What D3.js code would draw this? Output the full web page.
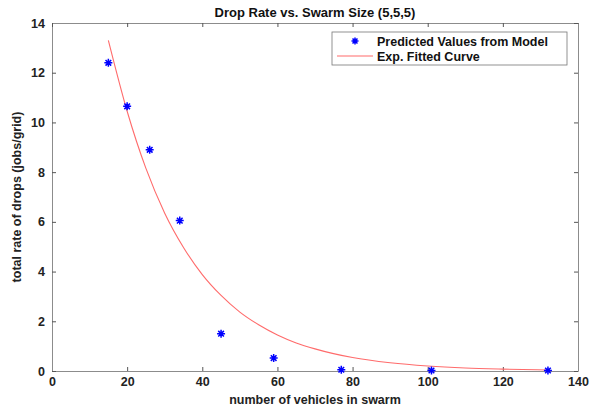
<!DOCTYPE html>
<html>
<head>
<meta charset="utf-8">
<script src="https://cdn.jsdelivr.net/npm/d3@7"></script>
<style>
  body { margin: 0; background: #fff; }
  svg text { font-family: "Liberation Sans", Arial, sans-serif; font-weight: bold; }
</style>
</head>
<body>
<svg id="chart" width="592" height="409"></svg>
<script>
// DATA
var vehicles = [15, 20, 26, 34, 45, 59, 77, 101, 132];
var drop_rate = [12.4, 10.65, 8.9, 6.05, 1.5, 0.52, 0.05, 0.02, 0.02];
// fitted curve
var fit_x = [15, 20, 25, 30, 35, 40, 45, 50, 55, 60, 65, 70, 80, 90, 100, 110, 120, 132];
var fit_y = [13.3, 10.45, 8.15, 6.35, 4.97, 3.88, 3.04, 2.37, 1.86, 1.45, 1.13, 0.89, 0.54, 0.33, 0.2, 0.12, 0.076, 0.042];
var x_ticks = [0, 20, 40, 60, 80, 100, 120, 140];
var y_ticks = [0, 2, 4, 6, 8, 10, 12, 14];

// CHART
var margin = { left: 52, top: 23, right: 14, bottom: 38 };
var width = 592 - margin.left - margin.right;
var height = 409 - margin.top - margin.bottom;

var x = d3.scaleLinear().domain([0, 140]).range([0, width]);
var y = d3.scaleLinear().domain([0, 14]).range([height, 0]);

var svg = d3.select('svg#chart');
var g = svg.append('g')
    .attr('transform', 'translate(' + margin.left + ',' + margin.top + ')');

function style_axis(sel) {
    sel.selectAll('path.domain').attr('stroke', '#8c8c8c');
    sel.selectAll('.tick line').attr('stroke', '#555');
    sel.selectAll('.tick text').attr('fill', '#222').attr('font-size', 12.5)
        .attr('font-family', '"Liberation Sans", Arial, sans-serif').attr('font-weight', 'bold');
}

// bottom / left axes, ticks pointing inward
g.append('g')
    .attr('transform', 'translate(0,' + height + ')')
    .call(d3.axisBottom(x).tickValues(x_ticks).tickSize(-4).tickSizeOuter(0).tickPadding(6))
    .call(style_axis);
g.append('g')
    .call(d3.axisLeft(y).tickValues(y_ticks).tickSize(-4).tickSizeOuter(0).tickPadding(7))
    .call(style_axis);
// top / right axes, no labels
g.append('g')
    .call(d3.axisTop(x).tickValues(x_ticks).tickSize(-4).tickSizeOuter(0).tickFormat(''))
    .call(style_axis);
g.append('g')
    .attr('transform', 'translate(' + width + ',0)')
    .call(d3.axisRight(y).tickValues(y_ticks).tickSize(-4).tickSizeOuter(0).tickFormat(''))
    .call(style_axis);

// fitted curve
var fit = fit_x.map(function(d, i) { return { x: d, y: fit_y[i] }; });
var line = d3.line()
    .x(function(d) { return x(d.x); })
    .y(function(d) { return y(d.y); })
    .curve(d3.curveMonotoneX);
g.append('path')
    .datum(fit)
    .attr('fill', 'none')
    .attr('stroke', '#ff6b6b')
    .attr('stroke-width', 1.1)
    .attr('d', line);

// asterisk markers
function star(r) {
    var d = r * 0.7071;
    return 'M' + (-r) + ',0L' + r + ',0M0,' + (-r) + 'L0,' + r +
        'M' + (-d) + ',' + (-d) + 'L' + d + ',' + d +
        'M' + (-d) + ',' + d + 'L' + d + ',' + (-d);
}
var pts = vehicles.map(function(d, i) { return { x: d, y: drop_rate[i] }; });
g.selectAll('path.pt')
    .data(pts)
    .enter().append('path')
    .attr('class', 'pt')
    .attr('transform', function(d) { return 'translate(' + x(d.x) + ',' + y(d.y) + ')'; })
    .attr('d', star(4))
    .attr('stroke', '#0000ff')
    .attr('stroke-width', 1.5)
    .attr('fill', 'none');

// title and axis labels
svg.append('text')
    .attr('x', margin.left + width / 2).attr('y', 17)
    .attr('text-anchor', 'middle').attr('font-size', 13).attr('fill', '#111')
    .text('Drop Rate vs. Swarm Size (5,5,5)');
svg.append('text')
    .attr('x', margin.left + width / 2).attr('y', 404)
    .attr('text-anchor', 'middle').attr('font-size', 12.5).attr('fill', '#222')
    .text('number of vehicles in swarm');
svg.append('text')
    .attr('transform', 'translate(21,' + (margin.top + height / 2) + ') rotate(-90)')
    .attr('text-anchor', 'middle').attr('font-size', 12.5).attr('fill', '#222')
    .text('total rate of drops (jobs/grid)');

// legend
var lg = svg.append('g').attr('transform', 'translate(332,32)');
lg.append('rect')
    .attr('width', 235).attr('height', 33)
    .attr('fill', '#fff').attr('stroke', '#777').attr('stroke-width', 0.8);
lg.append('path')
    .attr('transform', 'translate(23,9)')
    .attr('d', star(3.5))
    .attr('stroke', '#0000ff').attr('stroke-width', 1.5).attr('fill', 'none');
lg.append('line')
    .attr('x1', 5).attr('x2', 41).attr('y1', 24).attr('y2', 24)
    .attr('stroke', '#ff6b6b').attr('stroke-width', 1.1);
lg.append('text').attr('x', 45).attr('y', 13.5).attr('font-size', 12.5).attr('fill', '#111')
    .text('Predicted Values from Model');
lg.append('text').attr('x', 45).attr('y', 28.5).attr('font-size', 12.5).attr('fill', '#111')
    .text('Exp. Fitted Curve');
</script>
</body>
</html>
